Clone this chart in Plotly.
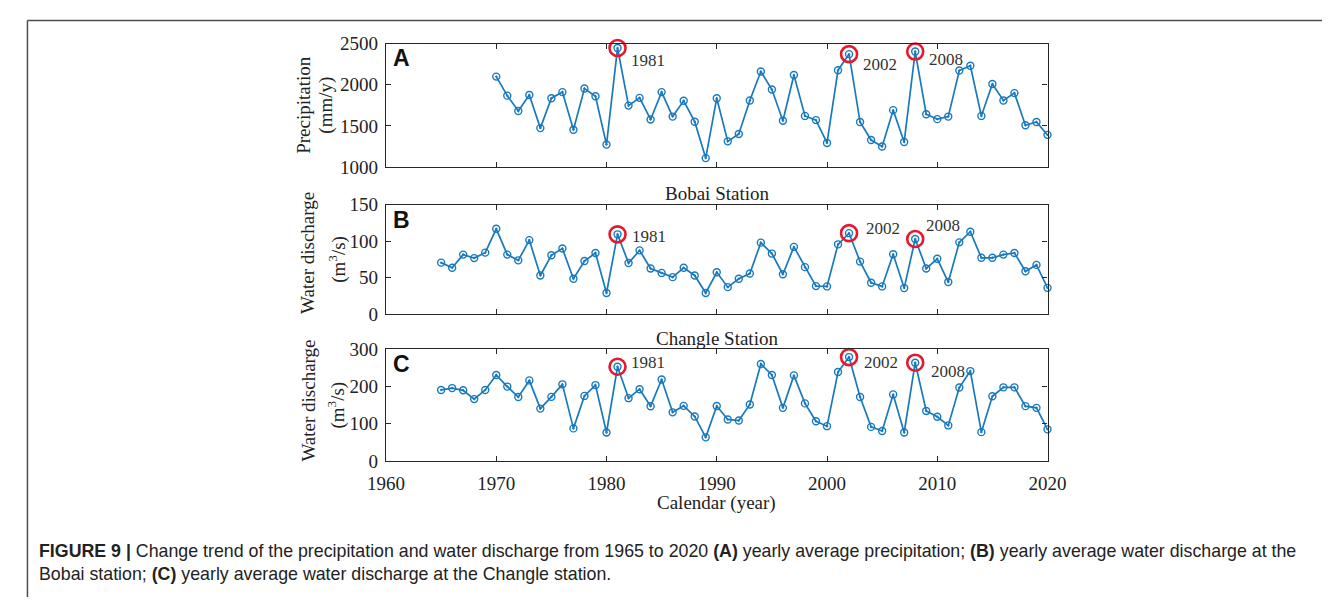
import plotly.graph_objects as go

# ---- data -------------------------------------------------------------
years_precip = list(range(1970, 2021))
precipitation = [2098, 1867, 1680, 1875, 1473, 1836, 1910, 1453, 1953, 1859,
                 1273, 2445, 1746, 1840, 1578, 1910, 1613, 1805, 1551, 1109,
                 1836, 1312, 1402, 1809, 2160, 1941, 1562, 2117, 1621, 1570,
                 1293, 2176, 2371, 1547, 1328, 1250, 1691, 1305, 2402, 1641,
                 1582, 1613, 2172, 2230, 1621, 2008, 1809, 1898, 1508, 1547,
                 1391]

years_flow = list(range(1965, 2021))
bobai_discharge = [70.6, 63.5, 81.6, 76.8, 84.3, 117, 81.6, 73.7, 101.5, 53,
                   80.7, 90, 48.5, 72.8, 83.8, 29, 109.4, 70, 87.4, 62.6,
                   56.5, 50.7, 63.5, 53, 29, 57.4, 37, 48.5, 55.6, 98,
                   83, 54.7, 92.2, 64.4, 38.4, 38, 95.7, 111, 72, 43,
                   38, 82, 35.7, 103, 62.6, 75.9, 44, 98.4, 113, 77.2,
                   77.2, 81.6, 83.8, 58.7, 67.5, 36]
changle_discharge = [190, 195, 189, 165.5, 190, 230, 199, 171, 215.5, 140,
                     171.5, 205, 87, 174, 203, 76, 252, 168, 192, 146.5,
                     218, 130, 147.4, 119, 63, 147, 111, 108, 151, 259.5,
                     230, 142, 229, 154, 106, 93, 238, 278, 171, 91,
                     80, 178, 76, 263, 133.6, 118, 95, 196.5, 240.5, 77,
                     173, 197, 197, 146.6, 142, 84.5]

peak_years = [1981, 2002, 2008]
x_ticks = [1960, 1970, 1980, 1990, 2000, 2010, 2020]
precip_ticks = [1000, 1500, 2000, 2500]
bobai_ticks = [0, 50, 100, 150]
changle_ticks = [0, 100, 200, 300]

# ---- page geometry (pixels) -------------------------------------------
W, H = 1341, 608
def px(x):
    return x / W
def py(y):
    return 1 - y / H

X_LEFT, X_RIGHT = 377.7, 1058.5
panels = [
    # (years, values, y range, y ticks, top px, bottom px, letter, label offsets)
    (years_precip, precipitation, [1000, 2500], precip_ticks, 34.7, 162.7, "A",
     [(30, -12), (31, -10), (31, -8)]),
    (years_flow, bobai_discharge, [0, 150], bobai_ticks, 201.7, 315.0, "B",
     [(31, -2), (34, 5), (28, 14)]),
    (years_flow, changle_discharge, [0, 300], changle_ticks, 351.0, 467.0, "C",
     [(30, 4), (32, -5), (33, -9)]),
]

LINE_BLUE = "#1879bd"
RING_RED = "#e8182c"
AXIS_COL = "#262626"
SERIF = "Liberation Serif"
SANS = "Liberation Sans"

fig = go.Figure()
annotations = []

for i, (yrs, vals, yr, yt, top, bot, letter, offsets) in enumerate(panels, start=1):
    xa = "x" if i == 1 else f"x{i}"
    ya = "y" if i == 1 else f"y{i}"

    fig.add_trace(go.Scatter(
        x=yrs, y=vals, mode="lines+markers", xaxis=xa, yaxis=ya,
        line=dict(color=LINE_BLUE, width=1.7),
        marker=dict(symbol="circle-open-dot", size=7, color=LINE_BLUE,
                    line=dict(color=LINE_BLUE, width=1.4)),
        cliponaxis=False, showlegend=False, hoverinfo="x+y"))

    # red rings around the three peak years
    peak_vals = [vals[yrs.index(y)] for y in peak_years]
    fig.add_trace(go.Scatter(
        x=peak_years, y=peak_vals, mode="markers", xaxis=xa, yaxis=ya,
        marker=dict(symbol="circle-open", size=16, color=RING_RED,
                    line=dict(color=RING_RED, width=2.6)),
        cliponaxis=False, showlegend=False, hoverinfo="skip"))

    for (yv, pv, (dx, dy)) in zip(peak_years, peak_vals, offsets):
        annotations.append(dict(
            x=yv, y=pv, xref=xa, yref=ya, text=str(yv), showarrow=False,
            xshift=dx, yshift=dy, xanchor="center", yanchor="middle",
            font=dict(family=SERIF, size=17, color="#333333")))

    axis_common = dict(showline=True, linecolor=AXIS_COL, linewidth=1.4,
                       mirror="allticks", ticks="inside", ticklen=5,
                       tickwidth=1.3, tickcolor=AXIS_COL, showgrid=False,
                       zeroline=False,
                       tickfont=dict(family=SERIF, size=19, color="#222222"))
    fig.layout[("xaxis" if i == 1 else f"xaxis{i}")] = dict(
        domain=[px(X_LEFT), px(X_RIGHT)], range=[1960, 2020],
        tickvals=x_ticks, showticklabels=(i == 3), anchor=ya,
        ticklabelstandoff=5, **axis_common)
    fig.layout[("yaxis" if i == 1 else f"yaxis{i}")] = dict(
        domain=[py(bot), py(top)], range=yr, tickvals=yt, anchor=xa,
        ticklabelstandoff=3, **axis_common)

    # panel letter
    annotations.append(dict(
        x=px(394), y=py((top + 15.5)), xref="paper", yref="paper",
        text=f"<b>{letter}</b>", showarrow=False, xanchor="center",
        yanchor="middle", font=dict(family=SANS, size=23, color="#111111")))

# axis titles and panel headings
titles = [
    dict(x=px(292), y=py(98.5), text="Precipitation", textangle=-90),
    dict(x=px(316.5), y=py(98.5), text="(mm/y)", textangle=-90),
    dict(x=px(297), y=py(252), text="Water discharge", textangle=-90),
    dict(x=px(327), y=py(258), text="(m<sup>3</sup>/s)", textangle=-90),
    dict(x=px(297), y=py(405), text="Water discharge", textangle=-90),
    dict(x=px(327), y=py(409), text="(m<sup>3</sup>/s)", textangle=-90),
    dict(x=px(718), y=py(190), text="Bobai Station"),
    dict(x=px(718), y=py(340), text="Changle Station"),
    dict(x=px(718), y=py(511), text="Calendar (year)"),
]
for a in titles:
    a.update(xref="paper", yref="paper", showarrow=False, xanchor="center",
             yanchor="middle", font=dict(family=SERIF, size=19, color="#222222"))
annotations += titles

# caption below the chart
caption_font = dict(family=SANS, size=17.8, color="#222222")
annotations += [
    dict(x=px(19), y=py(560), xref="paper", yref="paper", showarrow=False,
         xanchor="left", yanchor="middle", font=caption_font,
         text="<b>FIGURE 9 |</b> Change trend of the precipitation and water discharge "
              "from 1965 to 2020 <b>(A)</b> yearly average precipitation; <b>(B)</b> "
              "yearly average water discharge at the"),
    dict(x=px(19), y=py(584), xref="paper", yref="paper", showarrow=False,
         xanchor="left", yanchor="middle", font=caption_font,
         text="Bobai station; <b>(C)</b> yearly average water discharge at the "
              "Changle station."),
]

# figure frame: top rule and left rule
shapes = [
    dict(type="line", xref="paper", yref="paper", x0=px(8.7), x1=1,
         y0=py(11), y1=py(11), line=dict(color="#4d4d4d", width=1.5)),
    dict(type="line", xref="paper", yref="paper", x0=px(8.7), x1=px(8.7),
         y0=py(11), y1=0, line=dict(color="#4d4d4d", width=1.5)),
]

fig.update_layout(
    width=W, height=H, margin=dict(l=0, r=0, t=0, b=0),
    paper_bgcolor="white", plot_bgcolor="white",
    annotations=annotations, shapes=shapes, showlegend=False)

fig.write_html("out.html")
